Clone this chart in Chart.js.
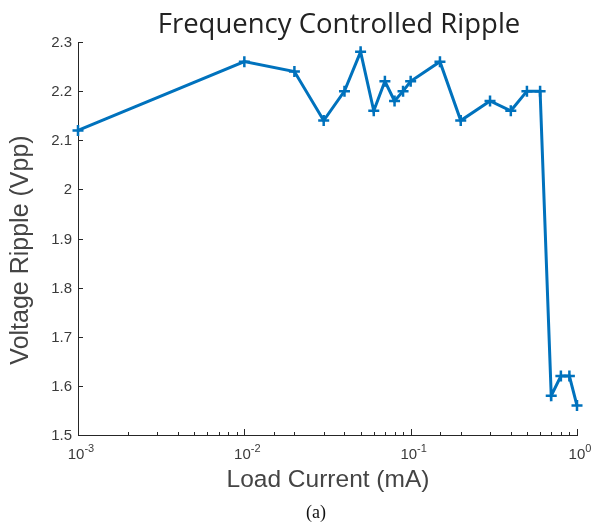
<!DOCTYPE html>
<html>
<head>
<meta charset="utf-8">
<script src="https://cdn.jsdelivr.net/npm/chart.js@4/dist/chart.umd.min.js"></script>
<style>
  html, body { margin: 0; padding: 0; background: #fff; }
  #wrap { width: 593px; height: 525px; }
</style>
</head>
<body>
<div id="wrap"><canvas id="c" width="593" height="525"></canvas></div>
<script>
// 負荷電流 (mA) と リップル (Vpp)
const loadCurrent = [0.001, 0.01, 0.02, 0.03, 0.04, 0.05, 0.06, 0.07, 0.08, 0.09, 0.1,
                     0.15, 0.2, 0.3, 0.4, 0.5, 0.6, 0.7, 0.8, 0.9, 1.0];
const ripple = [2.12, 2.26, 2.24, 2.14, 2.20, 2.28, 2.16, 2.22, 2.18, 2.20, 2.22,
                2.26, 2.14, 2.18, 2.16, 2.20, 2.20, 1.58, 1.62, 1.62, 1.56];

// 目盛り
const yTicks = [1.5, 1.6, 1.7, 1.8, 1.9, 2.0, 2.1, 2.2, 2.3];
const yTickLabels = ['1.5', '1.6', '1.7', '1.8', '1.9', '2', '2.1', '2.2', '2.3'];
const xMajor = [0.001, 0.01, 0.1, 1];
const xExponents = ['-3', '-2', '-1', '0'];

const titleText = 'Frequency Controlled Ripple';
const xTitle = 'Load Current (mA)';
const yTitle = 'Voltage Ripple (Vpp)';
const caption = '(a)';

const axisColor = '#262626';

// タイトル・目盛り・ラベルを描く
const decor = {
    id: 'decor',
    afterDraw(chart) {
        const { ctx, chartArea: a, scales: { x, y } } = chart;
        ctx.save();
        ctx.strokeStyle = axisColor;
        ctx.lineWidth = 1;

        // y 目盛り (内向き)
        ctx.fillStyle = '#3a3a3a';
        ctx.font = '15px "Liberation Sans", Arial, sans-serif';
        ctx.textAlign = 'right';
        ctx.textBaseline = 'middle';
        yTicks.forEach((v, i) => {
            const py = Math.round(y.getPixelForValue(v)) + 0.5;
            ctx.beginPath();
            ctx.moveTo(a.left, py);
            ctx.lineTo(a.left + 5, py);
            ctx.stroke();
            ctx.fillText(yTickLabels[i], a.left - 6, py);
        });

        // x 目盛り (主・副)
        x.ticks.forEach(t => {
            const lg = Math.log10(t.value);
            const major = Math.abs(lg - Math.round(lg)) < 1e-6;
            const px = Math.round(x.getPixelForValue(t.value)) + 0.5;
            ctx.beginPath();
            ctx.moveTo(px, a.bottom);
            ctx.lineTo(px, a.bottom - (major ? 6 : 3));
            ctx.stroke();
        });

        // x ラベル 10^n
        ctx.textBaseline = 'alphabetic';
        xMajor.forEach((v, i) => {
            const px = x.getPixelForValue(v);
            ctx.font = '15px "Liberation Sans", Arial, sans-serif';
            const wBase = ctx.measureText('10').width;
            ctx.font = '11px "Liberation Sans", Arial, sans-serif';
            const wExp = ctx.measureText(xExponents[i]).width;
            const left = px - (wBase + wExp) / 2 + 3;
            ctx.textAlign = 'left';
            ctx.font = '15px "Liberation Sans", Arial, sans-serif';
            ctx.fillText('10', left, a.bottom + 24);
            ctx.font = '11px "Liberation Sans", Arial, sans-serif';
            ctx.fillText(xExponents[i], left + wBase, a.bottom + 17);
        });

        // 軸タイトル
        ctx.fillStyle = '#444';
        ctx.font = '24.5px "Liberation Sans", Arial, sans-serif';
        ctx.textAlign = 'center';
        ctx.fillText(xTitle, 328, 487);
        ctx.save();
        ctx.translate(28, 250);
        ctx.rotate(-Math.PI / 2);
        ctx.font = '25px "Liberation Sans", Arial, sans-serif';
        ctx.fillText(yTitle, 0, 0);
        ctx.restore();

        // 図タイトル
        ctx.fillStyle = '#222';
        ctx.font = '27.5px "Open Sans", "Noto Sans", sans-serif';
        ctx.fillText(titleText, 339, 33);

        // キャプション
        ctx.fillStyle = '#111';
        ctx.font = '18px "Liberation Serif", "Times New Roman", serif';
        ctx.fillText(caption, 316, 518);

        ctx.restore();
    }
};

new Chart(document.getElementById('c'), {
    type: 'line',
    data: {
        datasets: [{
            data: loadCurrent.map((v, i) => ({ x: v, y: ripple[i] })),
            borderColor: '#0072BD',
            backgroundColor: '#0072BD',
            borderWidth: 3,
            pointStyle: 'cross',
            pointRadius: 5.5,
            pointBorderWidth: 2.5,
            tension: 0,
            fill: false,
            clip: false
        }]
    },
    options: {
        responsive: false,
        animation: false,
        layout: { padding: { left: 78, right: 16, top: 42, bottom: 90 } },
        plugins: {
            legend: { display: false },
            tooltip: { enabled: false }
        },
        scales: {
            x: {
                type: 'logarithmic',
                min: 0.001,
                max: 1,
                grid: { display: false, drawTicks: false },
                border: { display: true, color: axisColor, width: 1 },
                ticks: { display: false }
            },
            y: {
                type: 'linear',
                min: 1.5,
                max: 2.3,
                grid: { display: false, drawTicks: false },
                border: { display: true, color: axisColor, width: 1 },
                ticks: { display: false, stepSize: 0.1 }
            }
        }
    },
    plugins: [decor]
});
</script>
</body>
</html>
